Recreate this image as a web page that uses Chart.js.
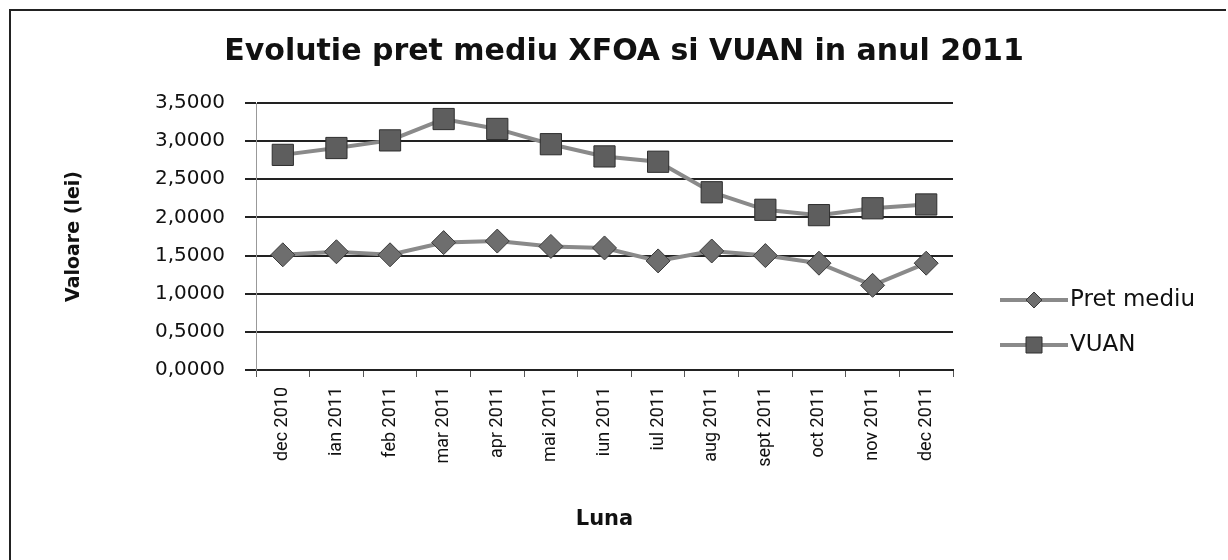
<!DOCTYPE html>
<html>
<head>
<meta charset="utf-8">
<script src="https://cdn.jsdelivr.net/npm/chart.js@4.4.1/dist/chart.umd.min.js"></script>
<style>
  body { margin: 0; background: #fff; }
  #wrap { width: 1228px; height: 560px; }
</style>
</head>
<body>
<div id="wrap"><canvas id="mycanvas" width="1228" height="560"></canvas></div>
<script>
var luni = ['dec 2010', 'ian 2011', 'feb 2011', 'mar 2011', 'apr 2011', 'mai 2011', 'iun 2011',
            'iul 2011', 'aug 2011', 'sept 2011', 'oct 2011', 'nov 2011', 'dec 2011'];
var pretMediu = [1.51, 1.55, 1.51, 1.67, 1.69, 1.62, 1.60, 1.43, 1.56, 1.50, 1.40, 1.11, 1.40];
var vuan = [2.82, 2.91, 3.01, 3.29, 3.16, 2.96, 2.80, 2.73, 2.33, 2.10, 2.03, 2.12, 2.17];
var yTicks = [0, 0.5, 1, 1.5, 2, 2.5, 3, 3.5];

var wideFont = "'DejaVu Sans', Verdana, sans-serif";
var narrowFont = "Roboto, 'Liberation Sans', sans-serif";

function fmt(v) {
	return v.toFixed(4).replace('.', ',');
}

// title, Excel style legend and the frame are drawn by hand
var excelExtras = {
	id: 'excelExtras',
	afterDraw: function(chart) {
		var ctx = chart.ctx;
		var ds = chart.data.datasets;
		var x0 = 1000, rows = [300, 345];
		ctx.save();

		ctx.fillStyle = '#111';
		ctx.font = 'bold 30px ' + wideFont;
		ctx.textAlign = 'center';
		ctx.textBaseline = 'middle';
		ctx.fillText('Evolutie pret mediu XFOA si VUAN in anul 2011', 624, 52);

		ctx.textAlign = 'left';
		for (var i = 0; i < ds.length; i++) {
			var y = rows[i];
			ctx.strokeStyle = ds[i].borderColor;
			ctx.lineWidth = 4;
			ctx.beginPath();
			ctx.moveTo(x0, y);
			ctx.lineTo(x0 + 68, y);
			ctx.stroke();
			ctx.fillStyle = ds[i].pointBackgroundColor;
			ctx.strokeStyle = ds[i].pointBorderColor;
			ctx.lineWidth = 1;
			ctx.beginPath();
			if (ds[i].pointStyle === 'rectRot') {
				ctx.moveTo(x0 + 34, y - 8); ctx.lineTo(x0 + 42, y); ctx.lineTo(x0 + 34, y + 8); ctx.lineTo(x0 + 26, y);
			} else {
				ctx.rect(x0 + 26, y - 8, 16, 16);
			}
			ctx.closePath();
			ctx.fill();
			ctx.stroke();
			ctx.fillStyle = '#111';
			ctx.font = '23px ' + wideFont;
			ctx.fillText(ds[i].label, x0 + 70, y);
		}

		ctx.strokeStyle = '#222';
		ctx.lineWidth = 2;
		ctx.beginPath();
		ctx.moveTo(10, 560);
		ctx.lineTo(10, 10);
		ctx.lineTo(1226, 10);
		ctx.stroke();
		ctx.restore();
	}
};

var chartdata = {
	labels: luni,
	datasets: [
		{
			label: 'Pret mediu',
			data: pretMediu,
			borderColor: '#8a8a8a',
			borderWidth: 4,
			pointStyle: 'rectRot',
			pointRadius: 12,
			pointBackgroundColor: '#6e6e6e',
			pointBorderColor: '#3a3a3a',
			pointBorderWidth: 1,
			tension: 0
		},
		{
			label: 'VUAN',
			data: vuan,
			borderColor: '#8a8a8a',
			borderWidth: 4,
			pointStyle: 'rect',
			pointRadius: 15,
			pointBackgroundColor: '#5e5e5e',
			pointBorderColor: '#2e2e2e',
			pointBorderWidth: 1,
			tension: 0
		}
	]
};

var ctx = document.getElementById('mycanvas');

var lineGraph = new Chart(ctx, {
	type: 'line',
	data: chartdata,
	plugins: [excelExtras],
	options: {
		responsive: false,
		animation: false,
		layout: { padding: { left: 58, right: 275, top: 103, bottom: 28 } },
		plugins: {
			legend: { display: false },
			tooltip: { enabled: false },
			title: { display: false }
		},
		scales: {
			x: {
				offset: true,
				grid: {
					offset: true,
					drawOnChartArea: false,
					drawTicks: true,
					tickLength: 7,
					color: '#555'
				},
				border: { display: true, color: '#222', width: 2 },
				ticks: {
					minRotation: 90,
					maxRotation: 90,
					autoSkip: false,
					color: '#111',
					padding: 10,
					font: { family: narrowFont, size: 18 }
				},
				title: {
					display: true,
					text: 'Luna',
					color: '#111',
					font: { family: wideFont, size: 21, weight: 'bold' },
					padding: { top: 10, bottom: 0 }
				},
				afterFit: function(scale) { scale.height = 162; }
			},
			y: {
				min: 0,
				max: 3.5,
				afterBuildTicks: function(scale) {
					scale.ticks = yTicks.map(function(v) { return { value: v }; });
				},
				grid: {
					color: '#222',
					lineWidth: 2,
					tickLength: 11
				},
				border: { display: true, color: '#999', width: 1 },
				ticks: {
					color: '#111',
					padding: 20,
					font: { family: wideFont, size: 20 },
					callback: function(v) { return fmt(v); }
				},
				title: {
					display: true,
					text: 'Valoare (lei)',
					color: '#111',
					font: { family: wideFont, size: 19, weight: 'bold' },
					padding: { top: 5, bottom: 0 }
				},
				afterFit: function(scale) { scale.width = 198; }
			}
		}
	}
});
</script>
</body>
</html>
